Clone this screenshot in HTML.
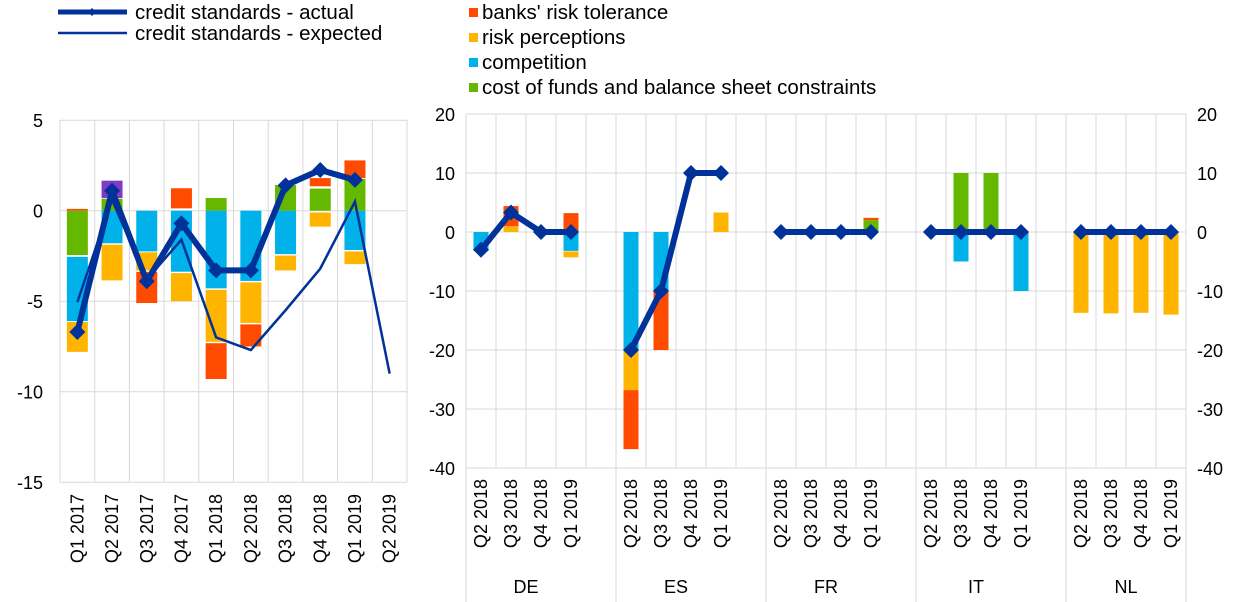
<!DOCTYPE html>
<html><head><meta charset="utf-8"><style>
body{margin:0;background:#fff;}
svg{display:block;font-family:"Liberation Sans",Arial,sans-serif;}
</style></head><body>
<svg id="s" width="1240" height="602" xmlns="http://www.w3.org/2000/svg">
<g font-size="20.5" fill="#000">
<line x1="58" y1="12" x2="127" y2="12" stroke="#003299" stroke-width="5"/>
<path d="M88 12 l4 -4 l4 4 l-4 4z" fill="#003299"/>
<text x="135" y="19">credit standards - actual</text>
<line x1="58" y1="33" x2="127" y2="33" stroke="#003299" stroke-width="2.5"/>
<text x="135" y="40">credit standards - expected</text>
<rect x="469" y="8" width="9" height="9" fill="#ff4b00"/><text x="482" y="19">banks' risk tolerance</text>
<rect x="469" y="33" width="9" height="9" fill="#ffb400"/><text x="482" y="44">risk perceptions</text>
<rect x="469" y="58" width="9" height="9" fill="#00b1ea"/><text x="482" y="69">competition</text>
<rect x="469" y="83" width="9" height="9" fill="#65b800"/><text x="482" y="94">cost of funds and balance sheet constraints</text>
</g>
<g id="g"></g>
</svg>
<script>
var g=document.getElementById('g'),h='';
var O='#ff4b00',Y='#ffb400',B='#00b1ea',G='#65b800',P='#8139c6',N='#003299';
function ly(v){return 210.7-18.1*v;}
function lx(i){return 60+34.7*(i+0.5);}
for(var v=5;v>=-15;v-=5){h+='<line x1="60" x2="407" y1="'+ly(v)+'" y2="'+ly(v)+'" stroke="#d9d9d9"/>';
h+='<text x="43" y="'+(ly(v)+7)+'" font-size="18" text-anchor="end">'+v+'</text>';}
for(var i=0;i<=10;i++){var x=60+34.7*i;h+='<line x1="'+x+'" x2="'+x+'" y1="120" y2="482" stroke="#d9d9d9"/>';}
var LB=[
[[O,0,0.1],[G,0,-2.45],[B,-2.55,-6.1],[Y,-6.15,-7.8]],
[[G,0,0.66],[P,0.7,1.66],[B,0,-1.8],[Y,-1.88,-3.85]],
[[B,0,-2.25],[Y,-2.3,-3.3],[O,-3.38,-5.1]],
[[O,0.13,1.24],[B,0,-3.37],[Y,-3.45,-5.0]],
[[G,0,0.7],[B,0,-4.29],[Y,-4.37,-7.24],[O,-7.32,-9.3]],
[[B,0,-3.88],[Y,-3.96,-6.2],[O,-6.28,-7.5]],
[[G,0,1.42],[B,0,-2.4],[Y,-2.48,-3.3]],
[[G,0,1.22],[O,1.35,1.8],[Y,-0.1,-0.88]],
[[G,0,1.75],[O,1.8,2.78],[B,0,-2.17],[Y,-2.25,-2.95]],
[]];
LB.forEach(function(b,i){b.forEach(function(s){var a=ly(s[1]),c=ly(s[2]);h+='<rect x="'+(lx(i)-10.5)+'" width="21" y="'+Math.min(a,c)+'" height="'+Math.abs(a-c)+'" fill="'+s[0]+'"/>';});});
var ex=[-5.05,0.6,-3.8,-1.6,-7.0,-7.7,-5.5,-3.2,0.5,-9.0],ac=[-6.7,1.1,-3.9,-0.7,-3.3,-3.3,1.4,2.25,1.7];
h+='<polyline fill="none" stroke="'+N+'" stroke-width="2.5" points="'+ex.map(function(v,i){return lx(i)+','+ly(v)}).join(' ')+'"/>';
h+='<polyline fill="none" stroke="'+N+'" stroke-width="6" stroke-linejoin="round" points="'+ac.map(function(v,i){return lx(i)+','+ly(v)}).join(' ')+'"/>';
ac.forEach(function(v,i){var x=lx(i),y=ly(v);h+='<path d="M'+(x-8)+' '+y+' L'+x+' '+(y-8)+' L'+(x+8)+' '+y+' L'+x+' '+(y+8)+'Z" fill="'+N+'"/>';});
var ll=['Q1 2017','Q2 2017','Q3 2017','Q4 2017','Q1 2018','Q2 2018','Q3 2018','Q4 2018','Q1 2019','Q2 2019'];
ll.forEach(function(t,i){var x=lx(i)+6;h+='<text font-size="18" text-anchor="end" transform="translate('+x+',494) rotate(-90)">'+t+'</text>';});
function ry(v){return 232-5.9*v;}
function rx(j){return 466+30*(j+0.5);}
for(var v=20;v>=-40;v-=10){h+='<line x1="466" x2="1186" y1="'+ry(v)+'" y2="'+ry(v)+'" stroke="#d9d9d9"/>';
h+='<text x="455" y="'+(ry(v)+7)+'" font-size="18" text-anchor="end">'+v+'</text>';
h+='<text x="1197" y="'+(ry(v)+7)+'" font-size="18">'+v+'</text>';}
for(var i=0;i<=24;i++){var x=466+30*i;h+='<line x1="'+x+'" x2="'+x+'" y1="114" y2="468" stroke="#d9d9d9"/>';}
[466,616,766,916,1066,1186].forEach(function(x){h+='<line x1="'+x+'" x2="'+x+'" y1="468" y2="602" stroke="#d9d9d9"/>';});
var RB={0:[[B,0,-3.2]],1:[[Y,0,0.9],[O,0.95,4.4]],3:[[O,0,3.2],[B,0,-3.2],[Y,-3.3,-4.3]],
5:[[B,0,-20],[Y,-20,-26.8],[O,-26.8,-36.8]],6:[[B,0,-10],[O,-10,-20]],8:[[Y,0,3.3]],
13:[[G,0,2.0],[O,2.0,2.4]],16:[[G,0,10],[B,0,-5]],17:[[G,0,10]],18:[[B,0,-10]],
20:[[Y,0,-13.7]],21:[[Y,0,-13.8]],22:[[Y,0,-13.7]],23:[[Y,0,-14]]};
for(var j in RB){RB[j].forEach(function(s){var a=ry(s[1]),c=ry(s[2]);h+='<rect x="'+(rx(+j)-7.5)+'" width="15" y="'+Math.min(a,c)+'" height="'+Math.abs(a-c)+'" fill="'+s[0]+'"/>';});}
var RA=[[-3,3.3,0,0],[-20,-10,10,10],[0,0,0,0],[0,0,0,0],[0,0,0,0]];
var lab=['Q2 2018','Q3 2018','Q4 2018','Q1 2019'],gn=['DE','ES','FR','IT','NL'];
RA.forEach(function(a,gi){var pts=a.map(function(v,k){return rx(gi*5+k)+','+ry(v)}).join(' ');
h+='<polyline fill="none" stroke="'+N+'" stroke-width="6" stroke-linejoin="round" points="'+pts+'"/>';
a.forEach(function(v,k){var x=rx(gi*5+k),y=ry(v);h+='<path d="M'+(x-8)+' '+y+' L'+x+' '+(y-8)+' L'+(x+8)+' '+y+' L'+x+' '+(y+8)+'Z" fill="'+N+'"/>';
h+='<text font-size="18" text-anchor="end" transform="translate('+(x+6)+',479) rotate(-90)">'+lab[k]+'</text>';});
h+='<text font-size="18" text-anchor="middle" x="'+(466+150*gi+60)+'" y="593">'+gn[gi]+'</text>';});
g.innerHTML=h;
</script>
</body></html>
